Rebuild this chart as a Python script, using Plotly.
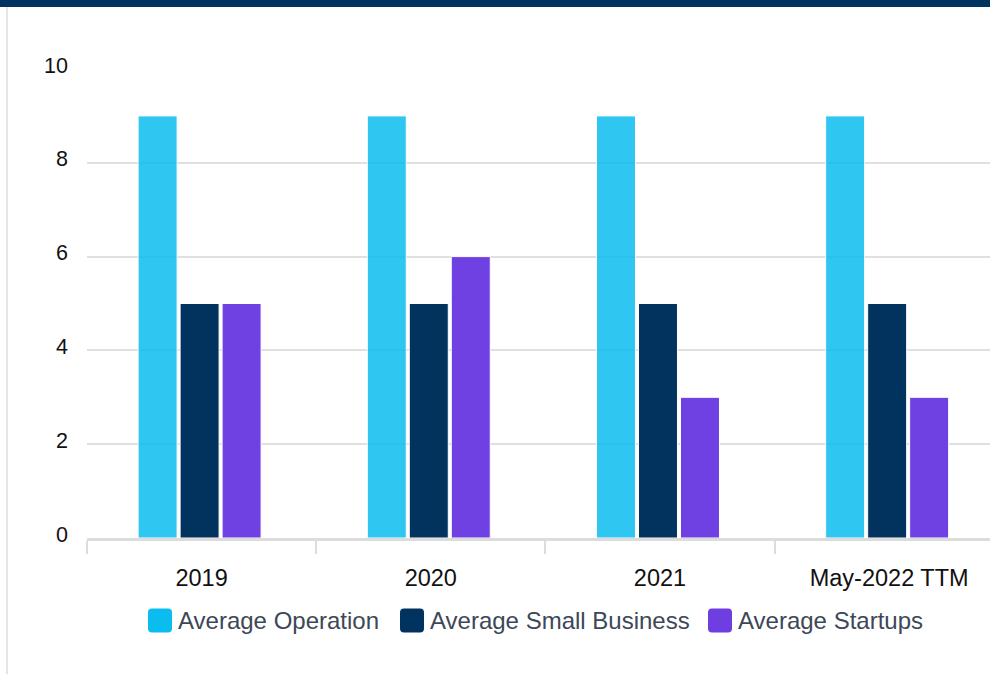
import plotly.graph_objects as go

categories = ["2019", "2020", "2021", "May-2022 TTM"]
series_names = ["Average Operation", "Average Small Business", "Average Startups"]
operation = [9, 9, 9, 9]
small_business = [5, 5, 5, 5]
startups = [5, 6, 3, 3]
y_ticks = [0, 2, 4, 6, 8, 10]

series_values = [operation, small_business, startups]
bar_colors = ["#0BBDEF", "#02335F", "#7041E2"]
bar_opacity = [0.85, 1.0, 1.0]
swatch_colors = ["#0BBDEF", "#00335F", "#6E3EE0"]

FONT = "Liberation Sans, Arial, sans-serif"
W_FIG, H_FIG = 990, 675
L, T, R = 87, 69, 0
PLOT_H = 469.5
B = H_FIG - T - PLOT_H
PLOT_W = W_FIG - L - R
CAT_PX = 229.2  # pixels per category on x axis

# bar geometry (pixels relative to category centre)
bar_w_px = 39
bar_left_px = [-63.5, -21.5, 20.5]

fig = go.Figure()
for name, vals, col, op, lp in zip(series_names, series_values, bar_colors, bar_opacity, bar_left_px):
    fig.add_trace(go.Bar(
        x=categories, y=vals, name=name,
        marker=dict(color=col, line=dict(color="white", width=1)),
        opacity=op, showlegend=False, hoverinfo="x+y+name",
        width=bar_w_px / CAT_PX, offset=lp / CAT_PX,
    ))

def px_x(px):
    return (px - L) / PLOT_W

def px_y(py):
    return 1 - (py - T) / PLOT_H

shapes = [
    dict(type="rect", xref="paper", yref="paper", x0=px_x(0), x1=px_x(W_FIG),
         y0=px_y(7), y1=px_y(0), fillcolor="#00345F", line=dict(width=0), layer="above"),
    dict(type="line", xref="paper", yref="paper", x0=px_x(7), x1=px_x(7),
         y0=px_y(7), y1=px_y(H_FIG), line=dict(color="#E6E6E6", width=2)),
]

legend_swatch_x = [148, 400, 708]
legend_y_center = 621
sw = 24
annotations = []
for name, col, sx in zip(series_names, swatch_colors, legend_swatch_x):
    r = 4
    top, bot = legend_y_center - sw / 2, legend_y_center + sw / 2
    path = (
        f"M {px_x(sx + r)},{px_y(top)} "
        f"L {px_x(sx + sw - r)},{px_y(top)} "
        f"Q {px_x(sx + sw)},{px_y(top)} {px_x(sx + sw)},{px_y(top + r)} "
        f"L {px_x(sx + sw)},{px_y(bot - r)} "
        f"Q {px_x(sx + sw)},{px_y(bot)} {px_x(sx + sw - r)},{px_y(bot)} "
        f"L {px_x(sx + r)},{px_y(bot)} "
        f"Q {px_x(sx)},{px_y(bot)} {px_x(sx)},{px_y(bot - r)} "
        f"L {px_x(sx)},{px_y(top + r)} "
        f"Q {px_x(sx)},{px_y(top)} {px_x(sx + r)},{px_y(top)} Z"
    )
    shapes.append(dict(type="path", xref="paper", yref="paper", path=path,
                       fillcolor=col, line=dict(width=0)))
    annotations.append(dict(
        x=px_x(sx + sw + 4), y=px_y(legend_y_center), xref="paper", yref="paper",
        text=name, showarrow=False, xanchor="left", yanchor="middle",
        font=dict(family=FONT, size=24, color="#3D4757"),
    ))

fig.update_layout(
    width=W_FIG, height=H_FIG,
    margin=dict(l=L, r=R, t=T, b=B, pad=0),
    paper_bgcolor="white", plot_bgcolor="white",
    barmode="group",
    showlegend=False,
    shapes=shapes, annotations=annotations,
    font=dict(family=FONT, color="#111111"),
    xaxis=dict(
        type="category", range=[-0.5, 3.44],
        showgrid=False, zeroline=False,
        showline=True, linecolor="#DCDCDC", linewidth=3,
        ticks="outside", tickson="boundaries", ticklen=13, tickwidth=2, tickcolor="#DCDCDC",
        tickfont=dict(family=FONT, size=23.5, color="#111111"),
        ticklabelstandoff=17,
    ),
    yaxis=dict(
        range=[0, 10], tickvals=y_ticks,
        showgrid=True, gridcolor="#E0E0E0", gridwidth=1.5,
        zeroline=False, showline=False,
        ticks="", ticklabelstandoff=18, ticklabelshift=-4,
        tickfont=dict(family=FONT, size=21.5, color="#111111"),
    ),
)

fig.write_html("out.html")
